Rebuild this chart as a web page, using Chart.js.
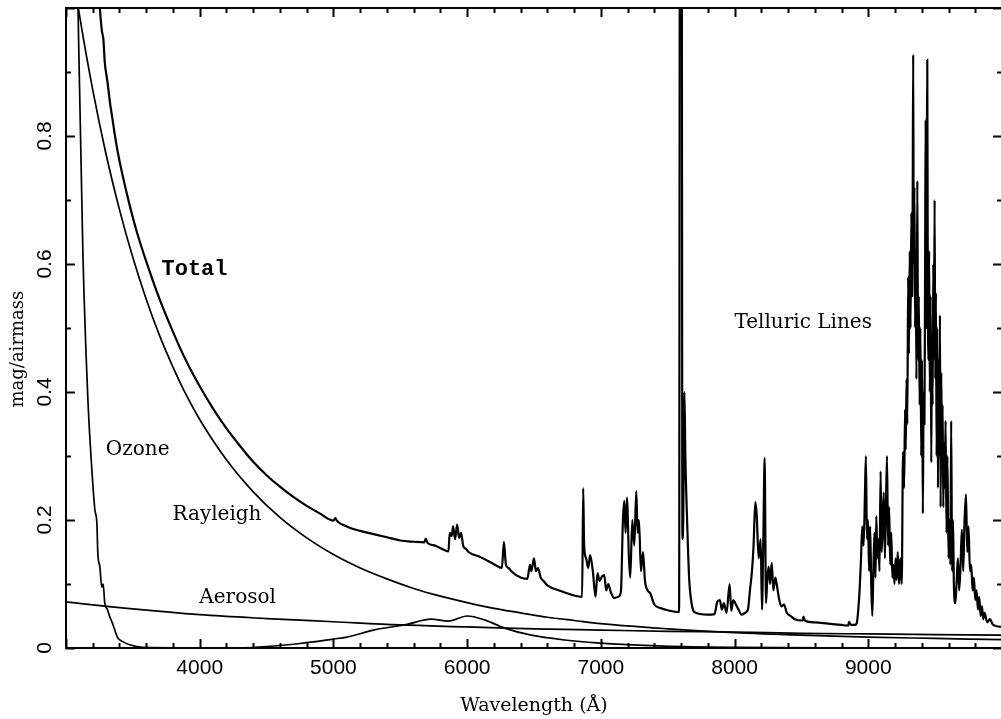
<!DOCTYPE html>
<html>
<head>
<meta charset="utf-8">
<script src="https://cdn.jsdelivr.net/npm/chart.js@4.4.1/dist/chart.umd.min.js"></script>
<style>
html, body { margin: 0; padding: 0; background: #fff; overflow: hidden; }
#wrap { width: 1010px; height: 719px; }
</style>
</head>
<body>
<div id="wrap"><canvas id="ext" width="1010" height="719"></canvas></div>
<script>
// 大气消光曲线 - mag/airmass vs wavelength

// 坐标轴刻度
var xTickLabels = [4000, 5000, 6000, 7000, 8000, 9000];
var yTickValues = [0, 0.2, 0.4, 0.6, 0.8];
var yTickLabels = ['0', '0.2', '0.4', '0.6', '0.8'];

// Rayleigh
var rayWave = [3000, 3100, 3200, 3300, 3400, 3500, 3600, 3700, 3800, 3900, 4000, 4200, 4400, 4600, 4800, 5000, 5200, 5400, 5600, 5800, 6000, 6200, 6400, 6600, 6800, 7000, 7500, 8000, 8500, 9000, 9500, 10000];
var rayMag = [1.13, 0.99, 0.872, 0.771, 0.685, 0.61, 0.545, 0.488, 0.439, 0.395, 0.357, 0.294, 0.244, 0.204, 0.172, 0.146, 0.125, 0.108, 0.093, 0.081, 0.071, 0.062, 0.055, 0.048, 0.043, 0.038, 0.030, 0.024, 0.020, 0.017, 0.015, 0.013];

// Aerosol
var aerWave = [3000, 3500, 4000, 4500, 5000, 5500, 6000, 6500, 7000, 7500, 8000, 8500, 9000, 9500, 10000];
var aerMag = [0.072, 0.061, 0.052, 0.046, 0.041, 0.036, 0.033, 0.030, 0.028, 0.026, 0.025, 0.023, 0.022, 0.021, 0.020];

// Ozone (Huggins + Chappuis)
var ozWave = [3040, 3090, 3126, 3164, 3193, 3216, 3231, 3238, 3253, 3268, 3278, 3290, 3310, 3327, 3345, 3365, 3387, 3424, 3476, 3573, 4300, 4500, 4750, 5000, 5100, 5300, 5550, 5730, 5860, 6000, 6130, 6280, 6480, 6730, 6970, 7470, 8000, 9000, 10000];
var ozMag = [1.6, 1.0, 0.62, 0.387, 0.28, 0.216, 0.195, 0.148, 0.127, 0.095, 0.1, 0.07, 0.06, 0.049, 0.04, 0.028, 0.016, 0.01, 0.005, 0.001, 0, 0.002, 0.007, 0.014, 0.017, 0.028, 0.037, 0.045, 0.042, 0.05, 0.044, 0.031, 0.02, 0.0125, 0.008, 0.003, 0.001, 0, 0];

// Total (with telluric lines)
var totWave = [3200, 3240, 3253, 3268, 3280, 3290, 3310, 3327, 3345, 3365, 3387, 3424, 3476, 3530, 3600, 3700, 3800, 3900, 4000, 4100, 4200, 4300, 4400, 4500, 4600, 4700, 4800, 4900, 5000, 5015, 5025, 5100, 5200, 5300, 5400, 5500, 5600, 5680, 5690, 5705, 5760, 5830, 5860,
  5870, 5885, 5895, 5910, 5925, 5940, 5955, 5970, 5990, 6010, 6100, 6200, 6260, 6275, 6290, 6310, 6330, 6400, 6450, 6470, 6480, 6500, 6515, 6530, 6550, 6570, 6600, 6700, 6800, 6860,
  6868, 6875, 6890, 6905, 6920, 6940, 6960, 6975, 6990, 7010, 7025, 7040, 7055, 7075, 7100, 7130, 7150, 7165, 7175, 7185, 7195, 7210, 7220, 7235, 7250, 7265, 7275, 7285, 7300, 7315, 7330, 7350, 7370, 7400, 7450, 7500, 7580,
  7585, 7592, 7604, 7610, 7616, 7625, 7632, 7645, 7660, 7680, 7700, 7800, 7850, 7870, 7890, 7905, 7920, 7940, 7963, 7975, 7990, 8005, 8030, 8052, 8080, 8100,
  8115, 8130, 8142, 8155, 8165, 8180, 8195, 8205, 8215, 8225, 8235, 8245, 8255, 8265, 8278, 8290, 8305, 8315, 8330, 8350, 8370, 8390, 8420, 8450, 8510, 8515, 8525, 8600, 8700, 8800, 8850, 8856, 8870, 8900,
  8915, 8925, 8935, 8945, 8955, 8965, 8975, 8982, 8990, 8998, 9006, 9014, 9022, 9030, 9038, 9046, 9054, 9060, 9068, 9076, 9084, 9092, 9100, 9108, 9116, 9124, 9132, 9140, 9148, 9156, 9164, 9172, 9180, 9188, 9196, 9204, 9212, 9220, 9230, 9240, 9250, 9260, 9268, 9275,
  9280, 9286, 9292, 9298, 9304, 9310, 9316, 9322, 9328, 9332, 9336, 9340, 9345, 9350, 9355, 9360, 9367, 9372, 9378, 9384, 9390, 9396, 9402, 9408, 9414, 9420, 9425, 9429, 9433, 9437, 9441, 9445, 9450, 9455, 9460, 9466, 9471, 9476, 9481, 9486, 9491, 9496, 9501, 9506, 9511, 9516, 9521, 9526, 9531, 9536, 9541, 9546, 9551, 9556, 9561, 9566, 9572, 9578, 9585, 9592,
  9600, 9607, 9614, 9620, 9627, 9634, 9640, 9651, 9660, 9670, 9680, 9690, 9700, 9710, 9720, 9731, 9740, 9750, 9760, 9770, 9780, 9790, 9800, 9810, 9820, 9830, 9840, 9850, 9860, 9870, 9890, 9910, 9930, 9960, 10000];
var totMag = [1.2, 1.05, 1.0, 0.965, 0.95, 0.915, 0.885, 0.855, 0.83, 0.802, 0.775, 0.738, 0.692, 0.65, 0.604, 0.545, 0.494, 0.448, 0.409, 0.374, 0.343, 0.316, 0.291, 0.27, 0.252, 0.236, 0.222, 0.21, 0.199, 0.203, 0.199, 0.19, 0.183, 0.178, 0.173, 0.168, 0.166, 0.165, 0.171, 0.164, 0.16, 0.153, 0.151,
  0.18, 0.175, 0.19, 0.17, 0.193, 0.172, 0.18, 0.16, 0.155, 0.15, 0.142, 0.131, 0.125, 0.166, 0.13, 0.125, 0.12, 0.11, 0.108, 0.13, 0.12, 0.14, 0.12, 0.125, 0.11, 0.105, 0.098, 0.089, 0.082, 0.08,
  0.25, 0.16, 0.14, 0.125, 0.145, 0.12, 0.08, 0.117, 0.105, 0.112, 0.114, 0.09, 0.1, 0.087, 0.078, 0.08, 0.088, 0.2, 0.23, 0.18, 0.235, 0.14, 0.11, 0.2, 0.16, 0.245, 0.18, 0.2, 0.12, 0.15, 0.105, 0.09, 0.085, 0.068, 0.062, 0.059, 0.056,
  0.056, 1.3, 1.3, 0.17, 0.2, 0.4, 0.3, 0.2, 0.11, 0.068, 0.056, 0.052, 0.053, 0.072, 0.075, 0.06, 0.07, 0.055, 0.1, 0.058, 0.075, 0.07, 0.06, 0.052, 0.055, 0.06,
  0.09, 0.12, 0.16, 0.228, 0.21, 0.14, 0.17, 0.06, 0.17, 0.297, 0.07, 0.11, 0.127, 0.1, 0.133, 0.09, 0.11, 0.1, 0.08, 0.065, 0.068, 0.055, 0.05, 0.045, 0.043, 0.049, 0.043, 0.04, 0.038, 0.036, 0.035, 0.041, 0.036, 0.036,
  0.04, 0.06, 0.09, 0.136, 0.19, 0.16, 0.24, 0.30, 0.17, 0.2, 0.12, 0.19, 0.10, 0.05, 0.12, 0.18, 0.11, 0.206, 0.14, 0.17, 0.12, 0.276, 0.15, 0.2, 0.243, 0.14, 0.22, 0.30, 0.16, 0.22, 0.13, 0.18, 0.11, 0.13, 0.10, 0.14, 0.106, 0.15, 0.10, 0.14, 0.10, 0.306, 0.25, 0.373,
  0.31, 0.42, 0.35, 0.58, 0.46, 0.62, 0.5, 0.68, 0.55, 0.69, 0.927, 0.6, 0.72, 0.5, 0.62, 0.42, 0.73, 0.45, 0.55, 0.38, 0.5, 0.3, 0.45, 0.21, 0.40, 0.35, 0.6, 0.825, 0.5, 0.71, 0.919, 0.585, 0.45, 0.62, 0.4, 0.55, 0.29, 0.49, 0.38, 0.6, 0.45, 0.70, 0.42, 0.555, 0.3, 0.5, 0.25, 0.45, 0.3, 0.52, 0.22, 0.43, 0.3, 0.38, 0.22, 0.32, 0.25, 0.355, 0.18, 0.3,
  0.14, 0.2, 0.13, 0.355, 0.12, 0.2, 0.1, 0.07, 0.1, 0.14, 0.09, 0.13, 0.185, 0.12, 0.2, 0.24, 0.15, 0.19, 0.12, 0.13, 0.09, 0.11, 0.075, 0.09, 0.06, 0.08, 0.05, 0.065, 0.045, 0.055, 0.04, 0.045, 0.037, 0.034, 0.033];

// 曲线标注
var notes = [
    { text: 'Total', wave: 3714, mag: 0.591, font: 'bold 22px "Liberation Mono", "Courier New", monospace' },
    { text: 'Telluric Lines', wave: 7999, mag: 0.508, font: '20px "DejaVu Serif", serif' },
    { text: 'Ozone', wave: 3298, mag: 0.309, font: '20px "DejaVu Serif", serif' },
    { text: 'Rayleigh', wave: 3796, mag: 0.208, font: '20px "DejaVu Serif", serif' },
    { text: 'Aerosol', wave: 3997, mag: 0.079, font: '20px "DejaVu Serif", serif' }
];

function pts(wave, mag) {
    return wave.map(function(w, i) { return { x: w, y: mag[i] }; });
}

function lineSet(label, wave, mag, width) {
    return {
        label: label,
        data: pts(wave, mag),
        borderColor: '#000',
        borderWidth: width,
        pointRadius: 0,
        fill: false,
        cubicInterpolationMode: 'monotone'
    };
}

var framePlugin = {
    id: 'framePlugin',
    afterDraw: function(chart) {
        var ctx = chart.ctx, a = chart.chartArea, xs = chart.scales.x, ys = chart.scales.y;
        ctx.save();
        ctx.strokeStyle = '#000';
        ctx.lineWidth = 2;
        ctx.strokeRect(a.left, a.top, a.right - a.left, a.bottom - a.top);
        ctx.beginPath();
        for (var w = xs.min; w <= xs.max; w += 200) {
            var px = Math.round(xs.getPixelForValue(w)) + 0.5;
            var len = (w % 1000 === 0) ? 9 : 5;
            ctx.moveTo(px, a.bottom); ctx.lineTo(px, a.bottom - len);
            ctx.moveTo(px, a.top); ctx.lineTo(px, a.top + len);
        }
        for (var k = 0; k <= 10; k++) {
            var py = Math.round(ys.getPixelForValue(k / 10)) + 0.5;
            var l2 = (k % 2 === 0) ? 9 : 5;
            ctx.moveTo(a.left, py); ctx.lineTo(a.left + l2, py);
            ctx.moveTo(a.right, py); ctx.lineTo(a.right - l2, py);
        }
        ctx.stroke();

        // y 轴刻度文字 (竖排)
        ctx.fillStyle = '#000';
        ctx.font = '21px "Liberation Sans", Arial, sans-serif';
        ctx.textAlign = 'center';
        ctx.textBaseline = 'middle';
        yTickValues.forEach(function(v, i) {
            var py = ys.getPixelForValue(v);
            ctx.save();
            ctx.translate(45, py);
            ctx.rotate(-Math.PI / 2);
            ctx.fillText(yTickLabels[i], 0, 0);
            ctx.restore();
        });

        // y 轴标题
        ctx.save();
        ctx.font = '18px "DejaVu Serif", serif';
        ctx.translate(18, ys.getPixelForValue(0.467));
        ctx.rotate(-Math.PI / 2);
        ctx.fillText('mag/airmass', 0, 0);
        ctx.restore();

        // 曲线标注
        ctx.textAlign = 'left';
        notes.forEach(function(n) {
            ctx.font = n.font;
            ctx.fillText(n.text, xs.getPixelForValue(n.wave), ys.getPixelForValue(n.mag));
        });
        ctx.restore();
    }
};

new Chart(document.getElementById('ext').getContext('2d'), {
    type: 'line',
    data: {
        datasets: [
            lineSet('Total', totWave, totMag, 2.2),
            lineSet('Rayleigh', rayWave, rayMag, 1.7),
            lineSet('Aerosol', aerWave, aerMag, 1.7),
            lineSet('Ozone', ozWave, ozMag, 1.7)
        ]
    },
    options: {
        responsive: false,
        animation: false,
        devicePixelRatio: 1,
        layout: { padding: { top: 8, right: 3, left: 0, bottom: 0 } },
        plugins: { legend: { display: false }, tooltip: { enabled: false } },
        scales: {
            x: {
                type: 'linear', min: 3000, max: 10000,
                grid: { display: false, drawTicks: false },
                border: { display: false },
                ticks: {
                    stepSize: 1000, autoSkip: false, maxRotation: 0, padding: 8, color: '#000',
                    font: { family: '"Liberation Sans", Arial, sans-serif', size: 21 },
                    callback: function(v) { return xTickLabels.indexOf(v) >= 0 ? String(v) : ''; }
                },
                title: {
                    display: true, text: 'Wavelength (Å)', color: '#000',
                    font: { family: '"DejaVu Serif", serif', size: 19 },
                    padding: { top: 0, bottom: 2 }
                },
                afterFit: function(s) { s.height = 71; }
            },
            y: {
                type: 'linear', min: 0, max: 1,
                grid: { display: false, drawTicks: false },
                border: { display: false },
                ticks: { display: false },
                afterFit: function(s) { s.width = 66; }
            }
        }
    },
    plugins: [framePlugin]
});
</script>
</body>
</html>
